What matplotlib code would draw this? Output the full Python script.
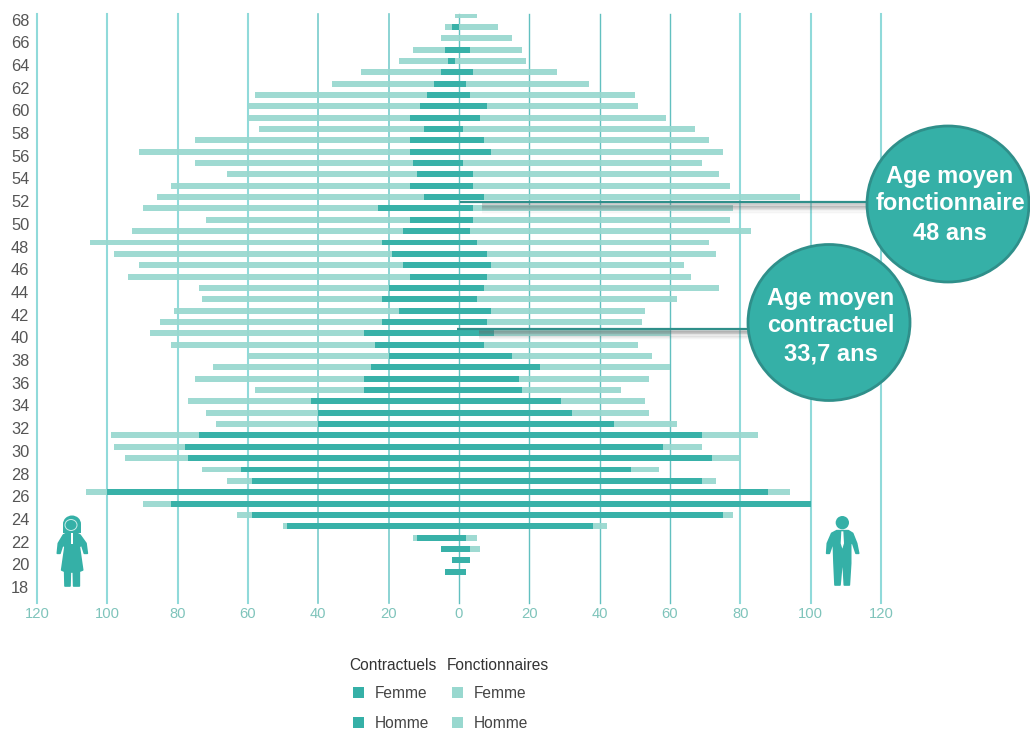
import numpy as np
import matplotlib
matplotlib.use('Agg')
import matplotlib.pyplot as plt
from matplotlib.patches import Circle, Ellipse, Polygon, Rectangle

plt.rcParams['font.family'] = ['Liberation Sans', 'DejaVu Sans']

# one row per age, from 68 down to 19
ages = list(range(68, 18, -1))
# bar ends on the left side (counted outwards) and the right side
fonct_left = [1, 4, 5, 13, 17, 28, 36, 58, 60, 60, 57, 75, 91, 75, 66, 82, 86, 90, 72, 93, 105, 98, 91, 94, 74,
              73, 81, 85, 88, 82, 60, 70, 75, 58, 77, 72, 69, 99, 98, 95, 73, 66, 106, 90, 63, 50, 13, 5, 2, 4]
contract_left = [0, 2, 0, 4, 3, 5, 7, 9, 11, 14, 10, 14, 14, 13, 12, 14, 10, 23, 14, 16, 22, 19, 16, 14, 20,
                 22, 17, 22, 27, 24, 20, 25, 27, 27, 42, 40, 40, 74, 78, 77, 62, 59, 100, 82, 59, 49, 12, 5, 2, 4]
contract_right = [0, 0, 0, 3, -1, 4, 2, 3, 8, 6, 1, 7, 9, 1, 4, 4, 7, 4, 4, 3, 5, 8, 9, 8, 7,
                  5, 9, 8, 10, 7, 15, 23, 17, 18, 29, 32, 44, 69, 58, 72, 49, 69, 88, 100, 75, 38, 2, 3, 3, 2]
fonct_right = [5, 11, 15, 18, 19, 28, 37, 50, 51, 59, 67, 71, 75, 69, 74, 77, 97, 78, 77, 83, 71, 73, 64, 66, 74,
               62, 53, 52, 60, 51, 55, 60, 54, 46, 53, 54, 62, 85, 69, 80, 57, 73, 94, 100, 78, 42, 5, 6, 3, 2]

age_ticks = list(range(68, 16, -2))
x_ticks = [-120, -100, -80, -60, -40, -20, 0, 20, 40, 60, 80, 100, 120]

legend_groups = ['Contractuels', 'Fonctionnaires']
legend_sexes = ['Femme', 'Homme']

DARK = '#35b0a7'
LIGHT = '#98d8cf'
RING = '#2f8f8a'

W, H = 1030, 731
fig = plt.figure(figsize=(W / 100, H / 100), dpi=100, facecolor='white')

# main axes: 37..881 px wide, 14..603 px from the top
ax = fig.add_axes([37 / W, 1 - 603 / H, (881 - 37) / W, (603 - 14) / H])
ax.set_xlim(-120, 120)
ax.set_ylim(68 - (603 - 15.5) / 11.35, 68 + 1.5 / 11.35)
for s in ax.spines.values():
    s.set_visible(False)

# grid, the inner right lines are thinner and stronger
for v in x_ticks:
    if 0 <= v <= 60:
        ax.axvline(v, color='#62c0c0', lw=1.0, zorder=1, clip_on=False)
    elif -40 <= v < 0:
        ax.axvline(v, color='#78cccc', lw=1.2, zorder=1, clip_on=False)
    else:
        ax.axvline(v, color='#90dada', lw=1.5, zorder=1, clip_on=False)

y = np.array(ages)
fl = np.array(fonct_left)
fr = np.array(fonct_right)
cl = np.array(contract_left)
cr = np.array(contract_right)
ax.barh(y, fl + fr, left=-fl, height=0.52, color=LIGHT, alpha=0.93, zorder=2)
ax.barh(y, cl + cr, left=-cl, height=0.52, color=DARK, alpha=0.97, zorder=3)

ax.set_xticks(x_ticks)
ax.set_xticklabels([str(abs(v)) for v in x_ticks], color='#7fc4bb', fontsize=10.6)
# age labels sit a little below their rows
ax.set_yticks([a - 0.36 for a in age_ticks])
ax.set_yticklabels([str(a) for a in age_ticks], color='#555555', fontsize=11.8)
ax.tick_params(axis='x', length=0, pad=3.2)
ax.tick_params(axis='y', length=0, pad=5.5)

# overlay in pixel units for callouts, legend and pictograms
ov = fig.add_axes([0, 0, 1, 1], zorder=5)
ov.set_xlim(0, W)
ov.set_ylim(H, 0)
ov.axis('off')
ov.patch.set_alpha(0)


def callout(cx, cy, x_start, y_line, lines, text_y):
    # soft shadow under the leader line
    for k, a in enumerate([0.34, 0.30, 0.25, 0.20, 0.14, 0.09, 0.05, 0.02]):
        ov.plot([x_start + 22, cx - 78], [y_line + 2 + k * 1.2] * 2, color='#666666', alpha=a, lw=1.3,
                solid_capstyle='butt', zorder=1)
    ov.plot([x_start, cx - 78], [y_line, y_line], color=RING, lw=1.6, solid_capstyle='butt', zorder=2)
    ov.add_patch(Ellipse((cx, cy), 162, 156, facecolor=DARK, edgecolor=RING, lw=2, zorder=3))
    for t, ty in zip(lines, text_y):
        ov.text(cx + 2, ty, t, color='white', fontsize=17, fontweight='bold', ha='center', va='center', zorder=4)


callout(829, 322.5, 457, 328.7, ['Age moyen', 'contractuel', '33,7 ans'], [298, 325, 354])
callout(948, 204, 460, 202.3, ['Age moyen', 'fonctionnaire', '48 ans'], [177, 204, 233])

# legend
for i, name in enumerate(legend_groups):
    ov.text([349, 447][i], 665, name, color='#333333', fontsize=11.2, ha='left', va='center')
    for j, sex in enumerate(legend_sexes):
        sq_x = [353, 452][i]
        sq_y = [687, 717][j]
        ov.add_patch(Rectangle((sq_x, sq_y), 11, 11, facecolor=[DARK, LIGHT][i], edgecolor='none'))
        ov.text([375, 474][i], sq_y + 6, sex, color='#444444', fontsize=11.2, ha='left', va='center')


def zoomed(pts, x0, y0):
    return [(x0 + px / 3, y0 + py / 3) for px, py in pts]


# woman pictogram
x0, y0 = 40, 500
ov.add_patch(Ellipse((72, 524), 18, 17, facecolor=DARK, edgecolor='none'))
ov.add_patch(Rectangle((63.3, 524), 17.4, 8.5, facecolor=DARK, edgecolor='none'))
ov.add_patch(Ellipse((71, 525), 12, 11, facecolor=DARK, edgecolor='#cdeeea', lw=0.7))
woman = [(85, 97), (105, 97), (120, 105), (138, 130), (142, 160), (133, 160), (125, 135), (118, 140), (128, 210),
         (118, 214), (118, 258), (101, 258), (100, 216), (91, 216), (90, 258), (75, 258), (74, 214), (65, 210),
         (75, 140), (68, 135), (60, 160), (52, 160), (55, 130), (70, 105)]
ov.add_patch(Polygon(zoomed(woman, x0, y0), closed=True, facecolor=DARK, edgecolor=DARK, lw=1.2, joinstyle='round'))
ov.add_patch(Polygon(zoomed([(94, 98), (98, 98), (98, 132), (94, 132)], x0, y0), closed=True, facecolor='white',
                     edgecolor='none'))

# man pictogram
x0, y0 = 810, 500
ov.add_patch(Circle((810 + 97 / 3, 500 + 68 / 3), 20 / 3, facecolor=DARK, edgecolor='none'))
man = [(80, 92), (115, 92), (128, 100), (140, 130), (146, 160), (138, 160), (128, 130), (122, 130), (122, 190),
       (118, 255), (103, 255), (100, 200), (95, 200), (90, 255), (75, 255), (72, 190), (70, 130), (68, 130),
       (58, 160), (50, 160), (52, 130), (65, 100)]
ov.add_patch(Polygon(zoomed(man, x0, y0), closed=True, facecolor=DARK, edgecolor=DARK, lw=1.2, joinstyle='round'))
ov.add_patch(Polygon(zoomed([(94, 94), (100, 94), (102, 130), (97, 146), (92, 130)], x0, y0), closed=True,
                     facecolor='white', edgecolor='none'))

fig.savefig('out.png', dpi=100)
